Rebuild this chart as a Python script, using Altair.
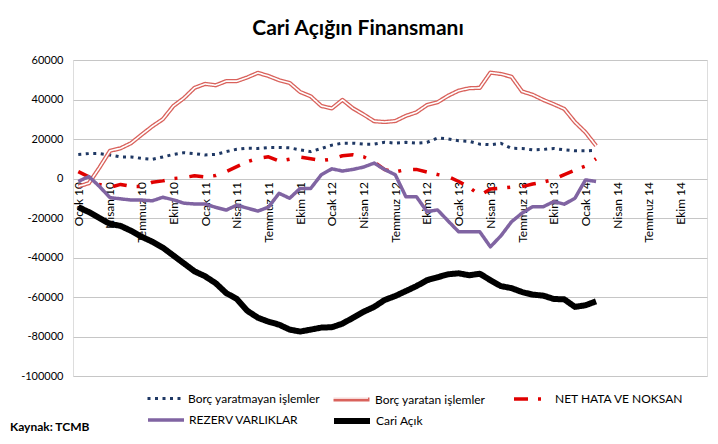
import altair as alt
import pandas as pd

# ---- categories / tick labels ----
month_names = ["Ocak", "Şubat", "Mart", "Nisan", "Mayıs", "Haziran", "Temmuz",
               "Ağustos", "Eylül", "Ekim", "Kasım", "Aralık"]
years = ["10", "11", "12", "13", "14"]
categories = [f"{m} {y}" for y in years for m in month_names]
tick_labels = categories[::3]

series_names = ["Borç yaratmayan işlemler", "Borç yaratan işlemler",
                "NET HATA VE NOKSAN", "REZERV VARLIKLAR", "Cari Açık"]

# ---- series values (million USD, 12-month cumulative), Jan 2010 - Feb 2014 ----
borc_yaratmayan = [12200, 12600, 12600, 11900, 10900, 10900, 10200, 9700, 10900, 12200,
                   13100, 12600, 11900, 12200, 13600, 14800, 15300, 15200, 15700, 15700,
                   15500, 14500, 13600, 15200, 16900, 17900, 17900, 17400, 17400, 18400,
                   17900, 18300, 17900, 18300, 20500, 20000, 19100, 18800, 17400, 17100,
                   17800, 15300, 15200, 14500, 14700, 15200, 14500, 14000, 14000, 14300]
borc_yaratan = [-4000, -2400, 5500, 14000, 15300, 17900, 22200, 26400, 30000, 36700,
                40700, 45900, 47900, 47200, 49300, 49300, 51200, 53500, 51900, 49800,
                48400, 43800, 41600, 36700, 35500, 39800, 35500, 32400, 29000, 28600,
                29100, 31700, 33500, 37200, 38600, 41900, 44500, 45700, 45900, 53600,
                52900, 51500, 44100, 42400, 39800, 37600, 35200, 28600, 23400, 16600]
net_hata = [3500, 800, -3000, -4500, -3000, -4000, -4000, -1900, -1200, 0,
            500, 1400, 800, 1500, 3500, 6000, 8500, 10200, 11000, 8800,
            9800, 10800, 10000, 9100, 9800, 11500, 12000, 11000, 8300, 4500,
            3300, 4500, 4600, 3300, 2000, 1000, -1500, -4500, -8500, -5300,
            -4900, -4300, -4100, -2800, -1800, -500, 2000, 4200, 6300, 10000]
rezerv = [-1500, 1000, -4000, -9700, -10300, -10900, -10900, -11300, -9500, -10800,
          -12500, -12900, -12900, -14600, -16000, -13500, -15000, -16500, -14500, -7500,
          -10000, -5000, -5000, 1900, 4900, 3800, 4600, 5800, 7800, 4500,
          1900, -9200, -9200, -16800, -15900, -21500, -27000, -27000, -27000, -34600,
          -29000, -21900, -17500, -14300, -14300, -11700, -13000, -10000, -700, -1500]
cari_acik = [-14500, -17000, -20000, -23000, -24000, -26500, -29500, -32000, -35000, -39000,
             -43000, -47000, -49500, -53000, -58000, -61000, -67000, -70500, -72500, -74000,
             -76500, -77500, -76500, -75500, -75300, -73500, -70500, -67500, -65000, -61500,
             -59500, -57000, -54500, -51500, -50000, -48500, -48000, -49000, -48200, -51500,
             -54500, -55500, -57500, -58800, -59300, -61000, -61200, -65000, -64200, -62200]

all_values = [borc_yaratmayan, borc_yaratan, net_hata, rezerv, cari_acik]
rows = []
for name, vals in zip(series_names, all_values):
    for month, v in zip(categories, vals):
        rows.append({"ay": month, "seri": name, "deger": v})
df = pd.DataFrame(rows)

# ---- layout ----
W, H = 634, 316
YMIN, YMAX = -100000, 60000
zero_offset = -(H - H * YMAX / (YMAX - YMIN))
FONT = "Lato"

x_enc = alt.X("ay:O",
              scale=alt.Scale(domain=categories, type="point", padding=0.5),
              axis=alt.Axis(values=tick_labels, labelAngle=270, offset=zero_offset,
                            domain=False, ticks=False, grid=False, title=None,
                            labelFont=FONT, labelFontSize=12, labelColor="#000000",
                            labelPadding=3, labelOverlap=False))
y_enc = alt.Y("deger:Q",
              scale=alt.Scale(domain=[YMIN, YMAX], nice=False),
              axis=alt.Axis(values=list(range(YMIN, YMAX + 1, 20000)),
                            labelExpr="'' + datum.value", title=None,
                            domain=False, ticks=False, grid=True,
                            gridColor="#C6C6C6", gridWidth=1,
                            labelFont=FONT, labelFontSize=11, labelColor="#000000",
                            labelPadding=10))

styles = {
    "Borç yaratmayan işlemler": dict(color="#1F3864", width=3, dash=[3, 4.5], lx=73, ly=319),
    "Borç yaratan işlemler": dict(color="#D9625C", width=4.2, dash=[1, 0], lx=258, ly=319),
    "NET HATA VE NOKSAN": dict(color="#E00000", width=3.5, dash=[14, 10, 3, 12], lx=439, ly=319),
    "REZERV VARLIKLAR": dict(color="#8064A2", width=3.5, dash=[1, 0], lx=73, ly=340),
    "Cari Açık": dict(color="#000000", width=6, dash=[1, 0], lx=258, ly=340),
}


def series_layer(name, color, width, dash, lx, ly, show_label=True):
    legend_kw = dict(orient="none", legendX=lx, legendY=ly, title=None,
                     symbolType="stroke", symbolSize=1296,
                     symbolStrokeWidth=width, symbolDash=dash,
                     labelFont=FONT, labelFontSize=12,
                     labelColor="#000000", labelOffset=3)
    if not show_label:
        legend_kw["labelExpr"] = "''"
    return alt.Chart(df).transform_filter(alt.datum.seri == name).mark_line(
        strokeWidth=width, strokeDash=dash, strokeCap="butt", strokeJoin="round"
    ).encode(
        x=x_enc, y=y_enc,
        color=alt.Color("seri:N", scale=alt.Scale(range=[color]),
                        legend=alt.Legend(**legend_kw)),
    )


layers = []
for name in series_names:
    s = styles[name]
    layers.append(series_layer(name, s["color"], s["width"], s["dash"], s["lx"], s["ly"]))
    if name == "Borç yaratan işlemler":
        # white core on top of the red line -> double-line look (also in the legend)
        layers.append(series_layer(name, "#FFFFFF", 1.6, [1, 0], s["lx"], s["ly"], False))

source = alt.Chart(pd.DataFrame({"t": ["Kaynak: TCMB"]})).mark_text(
    align="left", baseline="middle", font=FONT, fontSize=12, fontWeight="bold", color="#000000"
).encode(text="t:N", x=alt.value(-63), y=alt.value(367))

chart = alt.layer(*layers, source).resolve_scale(color="independent").properties(
    width=W, height=H,
    title=alt.TitleParams("Cari Açığın Finansmanı", font=FONT, fontSize=21, fontWeight="bold",
                          color="#000000", anchor="middle", dx=-32, offset=15),
    autosize=alt.AutoSizeParams(type="none"),
    padding={"left": 65, "top": 52, "right": 3, "bottom": 60},
).configure_view(stroke=None).configure(background="white")

chart.save("out.html", embed_options={"renderer": "svg", "actions": False})
